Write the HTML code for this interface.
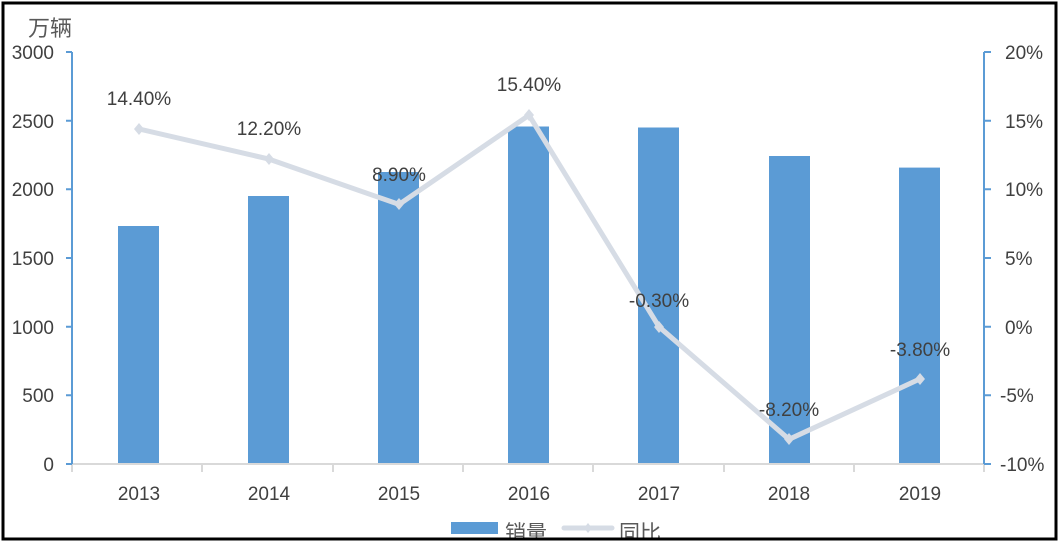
<!DOCTYPE html>
<html><head><meta charset="utf-8"><style>
html,body{margin:0;padding:0;background:#fff;}
svg{display:block;font-family:"Liberation Sans","Noto Sans CJK SC",sans-serif;}
</style></head><body>
<svg width="1061" height="544" viewBox="0 0 1061 544" xmlns="http://www.w3.org/2000/svg">
<rect width="1061" height="544" fill="#fff"/>
<text x="28" y="36" font-size="22" fill="#595959">万辆</text>
<g font-size="19" fill="#404040" text-anchor="end">
<text x="54" y="59">3000</text><text x="54" y="128">2500</text><text x="54" y="196">2000</text>
<text x="54" y="265">1500</text><text x="54" y="334">1000</text><text x="54" y="402">500</text><text x="54" y="471">0</text>
</g>
<g font-size="19" fill="#404040">
<text x="1005" y="59">20%</text><text x="1005" y="128">15%</text><text x="1005" y="196">10%</text>
<text x="1005" y="265">5%</text><text x="1005" y="334">0%</text><text x="1000" y="402">-5%</text><text x="1000" y="471">-10%</text>
</g>
<g fill="#5b9bd5">
<rect x="118" y="226" width="41" height="238"/>
<rect x="248" y="196" width="41" height="268"/>
<rect x="378" y="172" width="41" height="292"/>
<rect x="508" y="126.5" width="41" height="337.5"/>
<rect x="638" y="127.5" width="41" height="336.5"/>
<rect x="769" y="156" width="41" height="308"/>
<rect x="899" y="167.6" width="41" height="296.4"/>
</g>
<line x1="72" y1="464" x2="984" y2="464" stroke="#d9d9d9" stroke-width="2"/>
<g stroke="#d9d9d9" stroke-width="2">
<line x1="72" y1="464" x2="72" y2="472"/><line x1="202" y1="464" x2="202" y2="472"/><line x1="333" y1="464" x2="333" y2="472"/>
<line x1="463" y1="464" x2="463" y2="472"/><line x1="593" y1="464" x2="593" y2="472"/><line x1="724" y1="464" x2="724" y2="472"/>
<line x1="854" y1="464" x2="854" y2="472"/><line x1="984" y1="464" x2="984" y2="472"/>
</g>
<g stroke="#5b9bd5" stroke-width="2" fill="none">
<line x1="72" y1="52" x2="72" y2="464"/>
<path d="M66 52H72M66 120.7H72M66 189.3H72M66 258H72M66 326.7H72M66 395.3H72M66 464H72"/>
<line x1="984" y1="52" x2="984" y2="464"/>
<path d="M984 52H991M984 120.7H991M984 189.3H991M984 258H991M984 326.7H991M984 395.3H991M984 464H991"/>
</g>
<polyline points="139,129 269,159.1 399,204.4 529,115.2 659,326.8 789,439.3 920,378.9" fill="none" stroke="#d6dce5" stroke-width="5" stroke-linejoin="round"/>
<g fill="#d6dce5">
<path d="M139 123l5 6-5 6-5-6z"/><path d="M269 153l5 6-5 6-5-6z"/><path d="M399 198l5 6-5 6-5-6z"/>
<path d="M529 109l5 6-5 6-5-6z"/><path d="M659 321l5 6-5 6-5-6z"/><path d="M789 433l5 6-5 6-5-6z"/><path d="M920 373l5 6-5 6-5-6z"/>
</g>
<g font-size="19" fill="#404040" text-anchor="middle">
<text x="139" y="105">14.40%</text><text x="269" y="135">12.20%</text><text x="399" y="181">8.90%</text>
<text x="529" y="91">15.40%</text><text x="659" y="307">-0.30%</text><text x="789" y="416">-8.20%</text><text x="920" y="356">-3.80%</text>
</g>
<g font-size="19" fill="#404040" text-anchor="middle">
<text x="139" y="500">2013</text><text x="269" y="500">2014</text><text x="399" y="500">2015</text>
<text x="529" y="500">2016</text><text x="659" y="500">2017</text><text x="789" y="500">2018</text><text x="920" y="500">2019</text>
</g>
<rect x="451" y="522" width="47" height="12" fill="#5b9bd5"/>
<text x="505" y="540" font-size="21" fill="#595959">销量</text>
<line x1="564" y1="528" x2="612" y2="528" stroke="#d6dce5" stroke-width="5" stroke-linecap="round"/>
<path d="M588 523l4 5-4 5-4-5z" fill="#d6dce5"/>
<text x="619" y="540" font-size="21" fill="#595959">同比</text>
<rect x="0" y="539" width="1061" height="5" fill="#fff"/>
<rect x="3" y="3" width="1053" height="536" fill="none" stroke="#000" stroke-width="3"/>
</svg>
</body></html>
